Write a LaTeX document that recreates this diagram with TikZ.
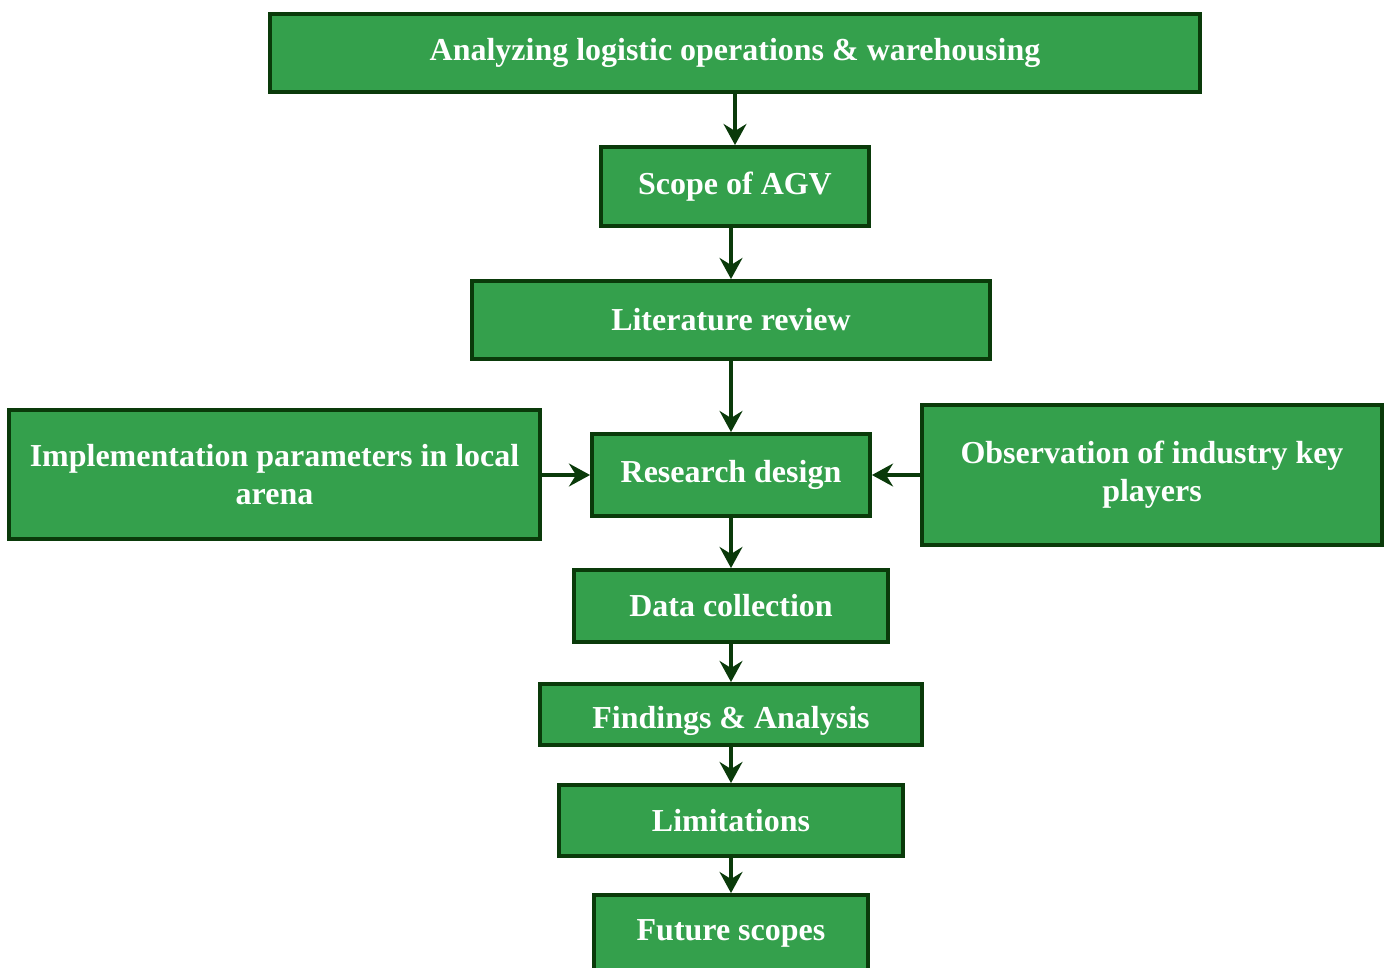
\documentclass[tikz,border=0pt]{standalone}
\usepackage{fontspec}
\setmainfont{Liberation Serif}
\usepackage{tikz}
\usetikzlibrary {arrows.meta,positioning}

\definecolor{boxgreen}{RGB}{52,160,76}
\definecolor{darkline}{RGB}{10,58,10}

\begin{document}
\begin{tikzpicture}[>={Stealth[length=12pt,width=13pt,inset=4pt]},
	stagebox/.style={draw=darkline,line width=2.2pt,fill=boxgreen,text=white,inner sep=0pt,align=center,font=\bfseries\fontsize{18.2}{21.6}\selectfont},
	link/.style={draw=darkline,line width=2.4pt}]

	\useasboundingbox (0,0) rectangle (27.74,-19.34);

	\node [stagebox,minimum width=18.6cm,minimum height=1.56cm] at (14.70,-1.06)	(analyze)		{Analyzing logistic operations \& warehousing};
	\node [stagebox,minimum width=5.36cm,minimum height=1.58cm] at (14.70,-3.73)	(scope)			{Scope of AGV};
	\node [stagebox,minimum width=10.36cm,minimum height=1.56cm] at (14.62,-6.40)	(literature)	{Literature review};
	\node [stagebox,minimum width=5.56cm,minimum height=1.64cm] at (14.62,-9.50)	(design)		{Research design};
	\node [stagebox,minimum width=10.62cm,minimum height=2.58cm] at (5.49,-9.49)	(implement)		{Implementation parameters in local\\arena};
	\node [stagebox,minimum width=9.20cm,minimum height=2.80cm] at (23.04,-9.50)	(observe)		{Observation of industry key\\players};
	\node [stagebox,minimum width=6.28cm,minimum height=1.44cm] at (14.62,-12.12)	(data)			{Data collection};
	\node [stagebox,minimum width=7.64cm,minimum height=1.22cm,text height=17pt,text depth=1.5pt] at (14.62,-14.29)	(findings)	{Findings \& Analysis};
	\node [stagebox,minimum width=6.88cm,minimum height=1.42cm] at (14.62,-16.41)	(limits)		{Limitations};
	\node [stagebox,minimum width=5.48cm,minimum height=1.52cm] at (14.62,-18.66)	(future)		{Future scopes};

	\path [->]	(analyze) edge [link] (scope)
				(literature.north |- scope.south) edge [link] (literature)
				(literature) edge [link] (design)
				(implement.east |- design) edge [link] (design)
				(observe.west |- design) edge [link] (design)
				(design) edge [link] (data)
				(data) edge [link] (findings)
				(findings) edge [link] (limits)
				(limits) edge [link] (future);

\end{tikzpicture}
\end{document}
